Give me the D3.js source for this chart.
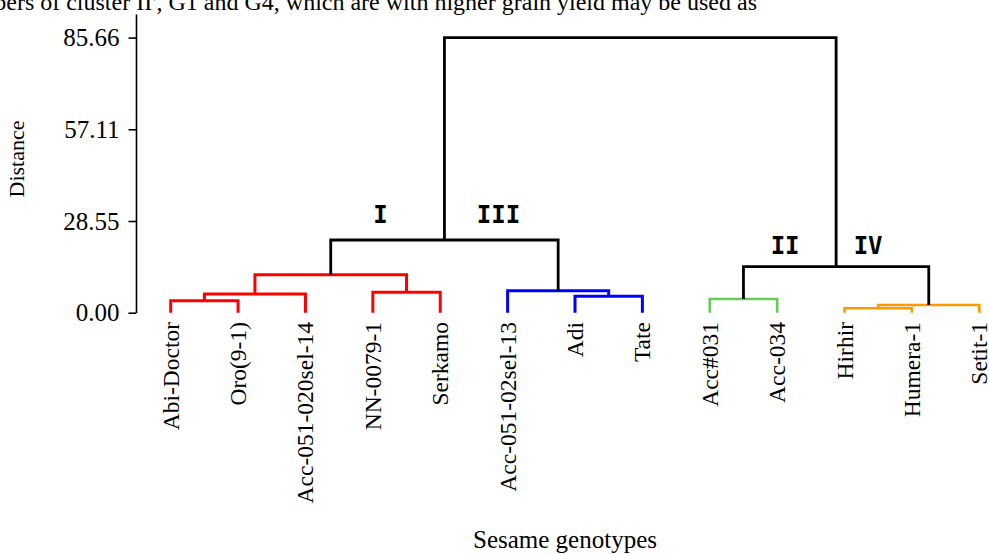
<!DOCTYPE html>
<html><head><meta charset="utf-8">
<script src="https://cdn.jsdelivr.net/npm/d3@7"></script>
<style>
html,body{margin:0;padding:0;background:#fff;}
svg{display:block;}
text{font-family:"Liberation Serif","Times New Roman",serif;fill:#000;}
</style></head>
<body>
<svg id="c" width="989" height="554"></svg>
<script>
// ---- data ----
const genotypes = ["Abi-Doctor","Oro(9-1)","Acc-051-020sel-14","NN-0079-1","Serkamo","Acc-051-02sel-13","Adi","Tate","Acc#031","Acc-034","Hirhir","Humera-1","Setit-1"];
// linkage: node ids 0..12 are leaves, 13.. are merges (in order)
const linkA      = [0, 13, 3, 14, 6, 5, 16, 8, 10, 21, 20, 19];
const linkB      = [1, 2, 4, 15, 7, 17, 18, 9, 11, 12, 22, 23];
const linkHeight = [3.74, 5.82, 6.35, 11.83, 5.11, 6.85, 22.64, 4.27, 1.37, 2.40, 14.32, 85.66];
const linkGroup  = ["I","I","I","I","III","III","root","II","IV","IV","root","root"];
const yTicks = [0.00, 28.55, 57.11, 85.66];
const clusterNames = ["I","III","II","IV"];
const caption = "bers of cluster II', G1 and G4, which are with higher grain yield may be used as";
const xTitle = "Sesame genotypes";
const yTitle = "Distance";

const groupColor = {I:"#ff0000", III:"#0000ff", II:"#66cc55", IV:"#ff9900", root:"#000000"};

// ---- scales ----
const svg = d3.select("#c");
const x = d3.scalePoint().domain(genotypes).range([170.7, 979.3]);
const y = d3.scaleLinear().domain([0, 93]).range([312.7, 14]);

// caption (cut off at top)
svg.append("text").attr("x", 757).attr("y", 10).attr("text-anchor","end")
  .style("font-size","24px").text(caption);

// y axis
const yAxis = d3.axisLeft(y).tickValues(yTicks).tickFormat(d3.format(".2f"))
  .tickSize(7.5).tickPadding(9).tickSizeOuter(0);
const ga = svg.append("g").attr("transform","translate(136,0)").call(yAxis);
ga.select(".domain").attr("stroke","#000").attr("stroke-width",1.6);
ga.selectAll(".tick line").attr("stroke","#000").attr("stroke-width",1.6);
ga.selectAll(".tick text").style("font-size","25px")
  .style("font-family","'Liberation Serif',serif").attr("fill","#000");

svg.append("text").attr("transform","translate(24,159) rotate(-90)")
  .attr("text-anchor","middle").style("font-size","22px").text(yTitle);
svg.append("text").attr("x", 565).attr("y", 548)
  .attr("text-anchor","middle").style("font-size","25px").text(xTitle);

// ---- dendrogram ----
const nodeX = genotypes.map(g => x(g));
const nodeH = genotypes.map(() => 0);
linkA.forEach((a, i) => {
  const b = linkB[i];
  nodeX.push((nodeX[a] + nodeX[b]) / 2);
  nodeH.push(linkHeight[i]);
});
const g = svg.append("g");
linkA.forEach((a, i) => {
  const b = linkB[i], h = linkHeight[i];
  const col = groupColor[linkGroup[i]];
  const w = linkGroup[i] === "root" ? 2.8 : (linkGroup[i] === "II" || linkGroup[i] === "IV" ? 2.6 : 3);
  const p = d3.path();
  p.moveTo(nodeX[a], y(nodeH[a]));
  p.lineTo(nodeX[a], y(h));
  p.lineTo(nodeX[b], y(h));
  p.lineTo(nodeX[b], y(nodeH[b]));
  g.append("path").attr("d", p.toString()).attr("fill","none")
    .attr("stroke", col).attr("stroke-width", w).attr("stroke-linejoin","miter");
});

// cluster labels
const nI = 13 + 6, nII = 13 + 10;
const lab = [
  {t: clusterNames[0], x: nodeX[nI] - 64, y: y(linkHeight[6]) - 17},
  {t: clusterNames[1], x: nodeX[nI] + 54, y: y(linkHeight[6]) - 17},
  {t: clusterNames[2], x: nodeX[nII] - 51, y: y(linkHeight[10]) - 13},
  {t: clusterNames[3], x: nodeX[nII] + 32, y: y(linkHeight[10]) - 13}
];
svg.selectAll(".cl").data(lab).enter().append("text")
  .attr("x", d => d.x).attr("y", d => d.y).attr("text-anchor","middle")
  .style("font-family","'DejaVu Sans Mono',monospace").style("font-weight","bold")
  .style("font-size","24px").text(d => d.t);

// leaf labels
svg.selectAll(".leaf").data(genotypes).enter().append("text")
  .attr("transform", d => `translate(${x(d)},322) rotate(-90)`)
  .attr("dy","0.34em").attr("text-anchor","end")
  .style("font-size","23.5px").text(d => d);
</script>
</body></html>
